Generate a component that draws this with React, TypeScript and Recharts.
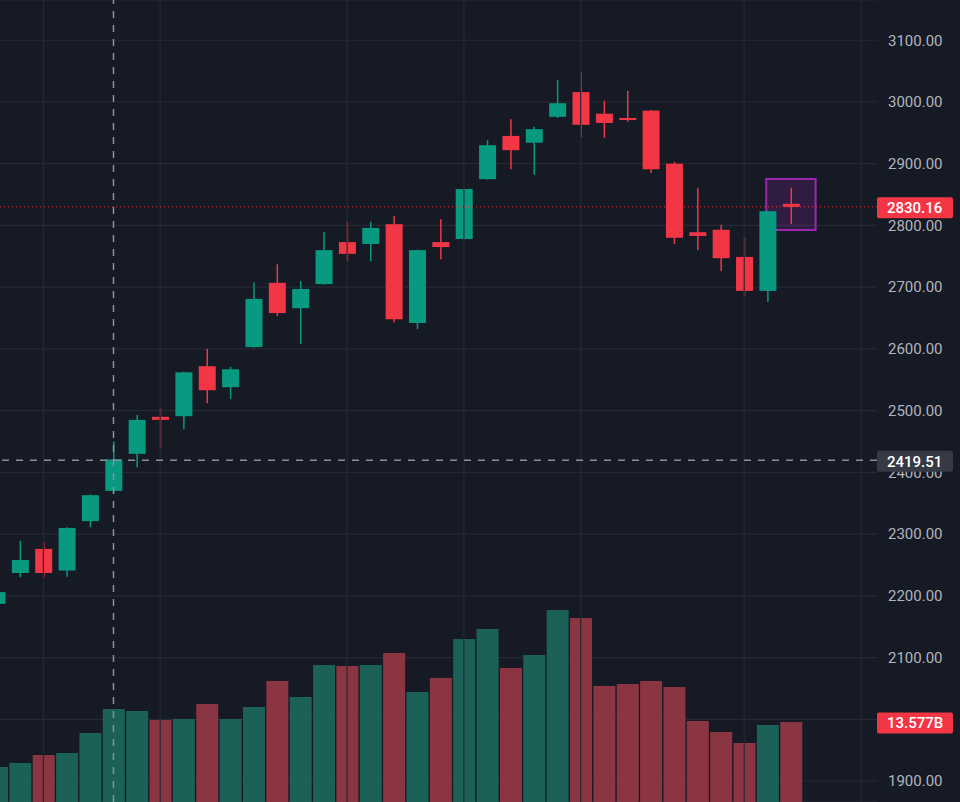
import React from 'react';
import { ComposedChart, Bar, XAxis, YAxis, CartesianGrid, ReferenceLine, ReferenceArea, Cell } from 'recharts';

// OHLC per candle, oldest first (first one is cut off by the left edge)
const opens = [2187, 2237, 2276, 2241, 2321, 2370, 2430, 2490, 2491, 2572, 2538, 2603, 2707, 2666, 2705, 2773, 2770, 2802, 2642, 2773, 2778, 2875, 2945, 2934, 2976, 3016, 2981, 2974, 2986, 2900, 2789, 2793, 2749, 2694, 2835];
const highs = [2212, 2289, 2287, 2311, 2364, 2450, 2493, 2504, 2563, 2600, 2571, 2708, 2737, 2710, 2789, 2806, 2806, 2815, 2761, 2810, 2860, 2938, 2972, 2960, 3036, 3049, 3002, 3018, 2987, 2903, 2861, 2801, 2781, 2824, 2861];
const lows = [2180, 2230, 2230, 2231, 2311, 2366, 2408, 2439, 2470, 2512, 2519, 2602, 2653, 2608, 2704, 2742, 2742, 2643, 2632, 2745, 2777, 2874, 2891, 2882, 2974, 2943, 2942, 2968, 2885, 2770, 2760, 2726, 2686, 2676, 2802];
const closes = [2206, 2258, 2237, 2310, 2363, 2421, 2485, 2485, 2562, 2533, 2567, 2681, 2658, 2697, 2760, 2754, 2796, 2648, 2760, 2765, 2859, 2930, 2922, 2956, 2998, 2963, 2966, 2971, 2891, 2780, 2783, 2747, 2694, 2823, 2830.16];
// volume in billions
const volumes = [5.94, 6.62, 7.98, 8.32, 11.71, 15.78, 15.44, 13.92, 14.09, 16.63, 14.09, 16.12, 20.54, 17.82, 23.25, 23.08, 23.25, 25.29, 18.67, 21.04, 27.66, 29.36, 22.74, 24.95, 32.58, 31.23, 19.69, 20.03, 20.54, 19.52, 13.75, 11.88, 10.01, 13.07, 13.577];

const emptySlots = 3; // room on the right of the last candle
const priceTicks = [1900, 2000, 2100, 2200, 2300, 2400, 2500, 2600, 2700, 2800, 2900, 3000, 3100];
const timeGrid = [2, 7, 15, 20, 25, 32, 37];
const crosshairIndex = 5;
const crosshairPrice = 2419.51;
const boxTop = 2875.3;
const boxBottom = 2792.6;

const PRICE_DOMAIN = [1866, 3165.2];
const VOL_DOMAIN = [0, 136.1];
const AXIS_W = 83;

const UP = '#089981';
const DOWN = '#f23645';
const VOL_UP = '#1b6158';
const VOL_DOWN = '#8a3541';
const GRID = '#252934';
const CROSS = '#8d909a';

const data = [...Array(closes.length + emptySlots)].map((_, i) =>
  i < closes.length
    ? { i, o: opens[i], h: highs[i], l: lows[i], c: closes[i], v: volumes[i], range: [lows[i], highs[i]] }
    : { i }
);

const lastClose = closes[closes.length - 1];
const lastVolume = volumes[volumes.length - 1];

const Candle = (props: any) => {
  const { x, y, width, height, payload } = props;
  if (!payload || payload.o == null) return null;
  const { o, h, l, c } = payload;
  const top = Math.min(y, y + height);
  const span = Math.abs(height);
  const toY = (p: number) => top + ((h - p) / (h - l)) * span;
  const color = c >= o ? UP : DOWN;
  const cx = x + width / 2;
  const bodyTop = toY(Math.max(o, c));
  const bodyH = Math.max(toY(Math.min(o, c)) - bodyTop, 2);
  return (
    <g>
      <rect x={cx - 0.75} y={top} width={1.5} height={span} fill={color} />
      <rect x={cx - 8.5} y={bodyTop} width={17} height={bodyH} fill={color} />
    </g>
  );
};

const PriceTag = (props: any) => {
  const { viewBox, text, bg } = props;
  if (!viewBox) return null;
  const x = viewBox.x + viewBox.width;
  const y = viewBox.y + 1;
  return (
    <g>
      <rect x={x} y={y - 10.5} width={76} height={21} rx={2} fill={bg} />
      <text x={x + 10} y={y} dy="0.36em" fill="#ffffff" fontSize={15} fontWeight={500} fontFamily="Roboto, sans-serif">
        {text}
      </text>
    </g>
  );
};

const HighlightBox = (props: any) => {
  const { x, y, width, height } = props;
  return (
    <rect x={x - 13} y={y} width={width + 26} height={height} fill="rgba(156,39,176,0.2)" stroke="#9c27b0" strokeWidth={2} />
  );
};

export default function App() {
  return (
    <div style={{ position: 'fixed', left: 0, top: 0, width: 960, height: 802, overflow: 'hidden', background: '#161a25' }}>
      <div style={{ position: 'absolute', left: -15, top: 0 }}>
        <ComposedChart width={975} height={802} data={data} margin={{ top: 0, right: 0, bottom: 0, left: 0 }}>
          <CartesianGrid vertical={false} stroke={GRID} strokeWidth={1.2} xAxisId="px" yAxisId="price" />
          <XAxis xAxisId="px" dataKey="i" type="category" hide padding={{ left: 0, right: 4.3 }} />
          <XAxis xAxisId="vx" dataKey="i" type="category" hide padding={{ left: 0, right: 4.3 }} />
          <YAxis
            yAxisId="price"
            orientation="right"
            width={AXIS_W}
            domain={PRICE_DOMAIN}
            allowDataOverflow
            ticks={priceTicks}
            interval={0}
            axisLine={false}
            tickLine={false}
            tickSize={0}
            tickMargin={11}
            tick={{ fill: '#b2b5be', fontSize: 15, fontFamily: 'Roboto, sans-serif', textAnchor: 'start' }}
            tickFormatter={(v: number) => v.toFixed(2)}
          />
          <YAxis yAxisId="vol" hide domain={VOL_DOMAIN} allowDataOverflow />

          {timeGrid.map((t) => (
            <ReferenceLine key={`tg-${t}`} xAxisId="px" yAxisId="price" x={t} stroke={GRID} strokeWidth={1.2} />
          ))}

          <Bar xAxisId="vx" yAxisId="vol" dataKey="v" barSize={22} isAnimationActive={false}>
            {data.map((d: any, idx) => (
              <Cell key={`v-${idx}`} fill={d.c >= d.o ? VOL_UP : VOL_DOWN} />
            ))}
          </Bar>

          <ReferenceArea
            xAxisId="px"
            yAxisId="price"
            x1={34}
            x2={34}
            y1={boxBottom}
            y2={boxTop}
            shape={<HighlightBox />}
          />

          <Bar xAxisId="px" yAxisId="price" dataKey="range" barSize={18} shape={<Candle />} isAnimationActive={false} />

          <ReferenceLine xAxisId="px" yAxisId="price" y={lastClose} stroke={DOWN} strokeDasharray="1 3" />
          <ReferenceLine xAxisId="px" yAxisId="price" x={crosshairIndex} stroke={CROSS} strokeWidth={1.5} strokeDasharray="7 7" />
          <ReferenceLine xAxisId="px" yAxisId="price" y={crosshairPrice} stroke={CROSS} strokeWidth={1.5} strokeDasharray="7 7" />
        </ComposedChart>
      </div>

      {/* tags on the price scale, drawn above the tick labels */}
      <div style={{ position: 'absolute', left: -15, top: 0 }}>
        <ComposedChart width={975} height={802} data={data} margin={{ top: 0, right: AXIS_W, bottom: 0, left: 0 }}>
          <XAxis xAxisId="px" dataKey="i" type="category" hide />
          <YAxis yAxisId="price" hide domain={PRICE_DOMAIN} allowDataOverflow />
          <YAxis yAxisId="vol" hide domain={VOL_DOMAIN} allowDataOverflow />
          <ReferenceLine
            xAxisId="px"
            yAxisId="price"
            y={lastClose}
            stroke="none"
            strokeOpacity={0}
            label={<PriceTag text={lastClose.toFixed(2)} bg={DOWN} />}
          />
          <ReferenceLine
            xAxisId="px"
            yAxisId="vol"
            y={lastVolume}
            stroke="none"
            strokeOpacity={0}
            label={<PriceTag text={`${lastVolume.toFixed(3)}B`} bg={DOWN} />}
          />
          <ReferenceLine
            xAxisId="px"
            yAxisId="price"
            y={crosshairPrice}
            stroke="none"
            strokeOpacity={0}
            label={<PriceTag text={crosshairPrice.toFixed(2)} bg="#363a45" />}
          />
        </ComposedChart>
      </div>
    </div>
  );
}
